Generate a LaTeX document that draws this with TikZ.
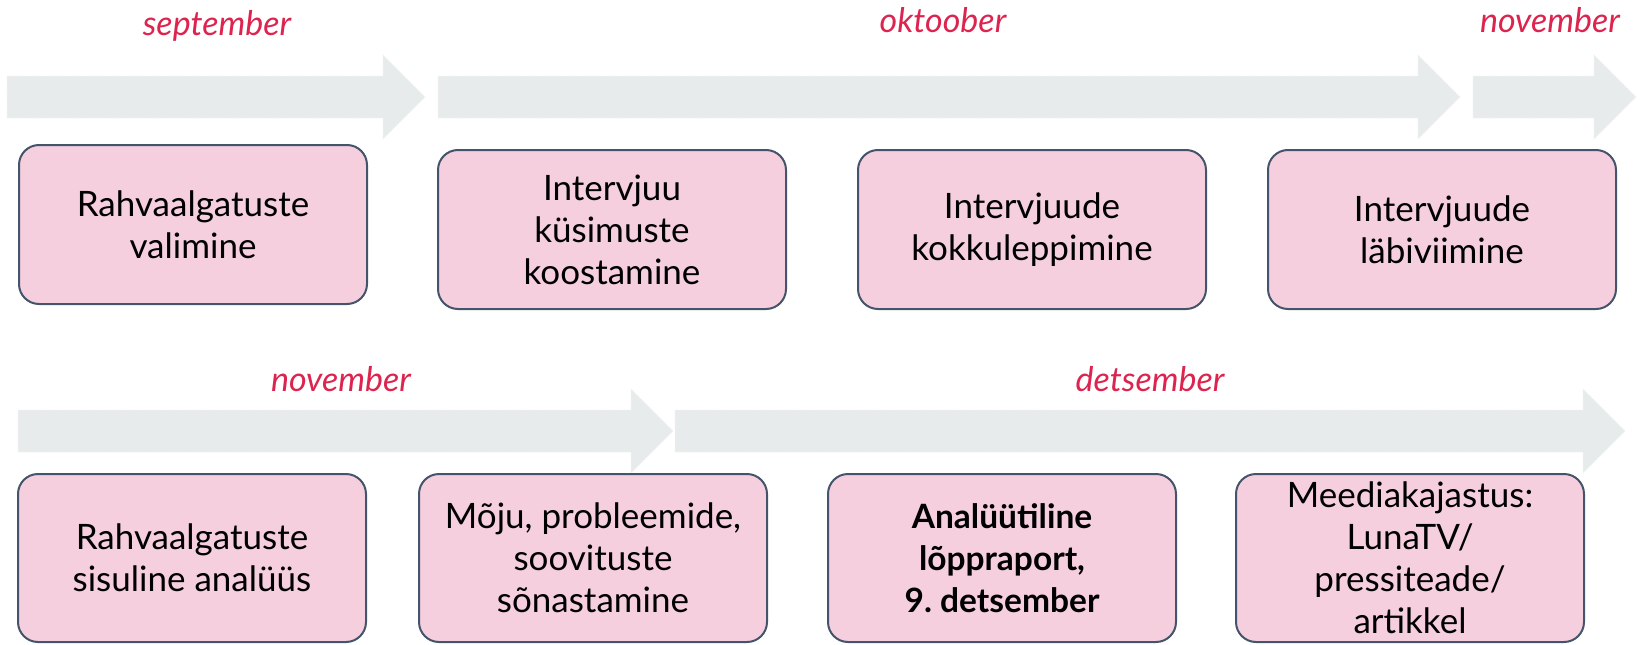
\documentclass[tikz,border=0pt]{standalone}
\usepackage{fontspec}
\setmainfont{Lato}
\frenchspacing
\usetikzlibrary{positioning}
\definecolor{mypink}{RGB}{245,207,222}
\definecolor{myslate}{RGB}{68,84,106}
\definecolor{myred}{RGB}{220,36,78}
\definecolor{mygrey}{RGB}{232,235,236}
\tikzset{
    task/.style   = {draw=myslate, line width=2pt, fill=mypink,
            minimum width=348pt, minimum height=159pt,
            align=center, inner sep=0pt, rounded corners=20pt,
            font=\fontsize{35}{42}\selectfont},
    taskL/.style  = {task, minimum height=168pt},
    month/.style  = {anchor=base, text=myred,
            font=\fontsize{34}{40}\selectfont\itshape},
    band/.style   = {fill=mygrey, draw=mygrey!60!white, densely dashed, line width=0.8pt},
}
% from x, to x (tip), middle y
\newcommand{\timeband}[3]{%
    \filldraw[band] (#1,#3-21) -- (#2-42,#3-21) -- (#2-42,#3-42) -- (#2,#3)
    -- (#2-42,#3+42) -- (#2-42,#3+21) -- (#1,#3+21) -- cycle;}

\begin{document}
\begin{tikzpicture}[x=1pt,y=-1pt]
    \useasboundingbox (0,0) rectangle (1642,645);
    % Bands
    \timeband{7}{425}{97}
    \timeband{438}{1460}{97}
    \timeband{1473}{1636}{97}
    \timeband{18}{673}{431}
    \timeband{675}{1625}{431}
    % Months
    \node[month] (sep)  at (217,35)  {september};
    \node[month] (okt)  at (943,32)  {oktoober};
    \node[month] (novA) at (1550,32) {november};
    \node[month] (novB) at (341,391) {november};
    \node[month] (dets) at (1150,391) {detsember};
    % Tasks
    \node[task] (valik)       at (193,224.5)  {Rahvaalgatuste\\valimine};
    \node[task] (kysimused)   at (612,229.5)  {Intervjuu\\küsimuste\\koostamine};
    \node[task] (kokkulepe)   at (1032,229.5) {Intervjuude\\kokkuleppimine};
    \node[task] (labiviimine) at (1442,229.5) {Intervjuude\\läbiviimine};
    \node[taskL] (analyys)     at (192,558)  {Rahvaalgatuste\\sisuline analüüs};
    \node[taskL] (sonastamine) at (593,558)  {Mõju, probleemide,\\soovituste\\sõnastamine};
    \node[taskL, font=\fontsize{33.5}{42}\selectfont\bfseries] (raport) at (1002,558)
        {Analüütiline\\lõppraport,\\9. detsember};
    \node[taskL] (meedia)      at (1410,558) {Meediakajastus:\\LunaTV/\\pressiteade/\\artikkel};
\end{tikzpicture}
\end{document}
